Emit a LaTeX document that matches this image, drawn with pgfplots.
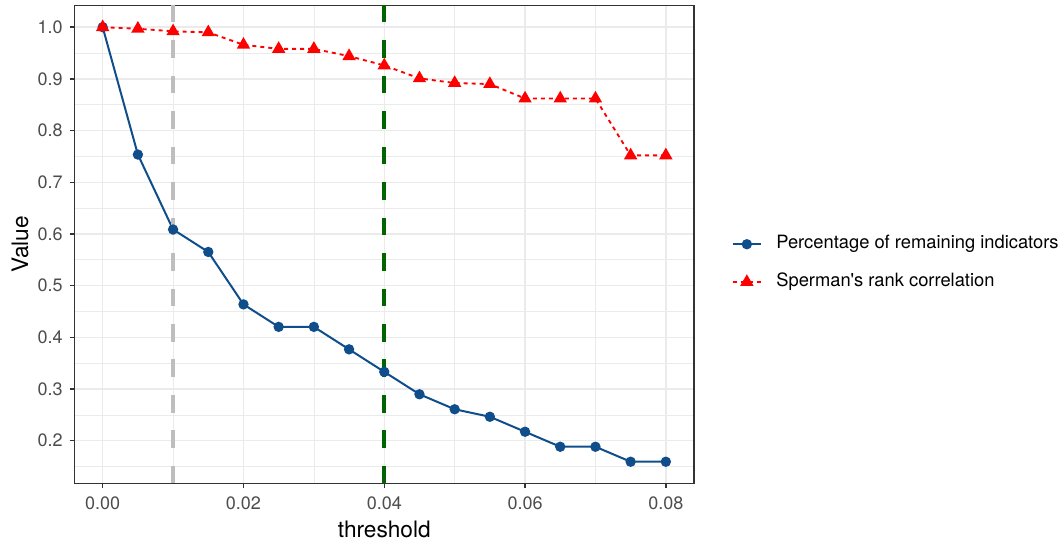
\documentclass[border=0pt]{standalone}
\usepackage{fontspec}
\setmainfont{TeX Gyre Heros}
\usepackage{pgfplots}
\pgfplotsset{compat=1.18}
\definecolor{gridc}{HTML}{EBEBEB}
\definecolor{borderc}{HTML}{333333}
\definecolor{tickc}{HTML}{4D4D4D}
\definecolor{blueline}{RGB}{16,78,139}
\definecolor{vgrey}{HTML}{BEBEBE}
\definecolor{vgreen}{HTML}{006400}
\begin{document}
\begin{tikzpicture}
\path[use as bounding box] (-55.9pt,-43.9pt) rectangle (742.1pt,362.6pt);
\begin{axis}[
  scale only axis, width=464.6pt, height=358.5pt,
  xmin=-0.004, xmax=0.084, ymin=0.11737, ymax=1.04203,
  xtick={0,0.02,0.04,0.06,0.08}, minor xtick={0.01,0.03,0.05,0.07},
  ytick={0.2,0.3,0.4,0.5,0.6,0.7,0.8,0.9,1.0},
  minor ytick={0.15,0.25,0.35,0.45,0.55,0.65,0.75,0.85,0.95},
  grid=both,
  major grid style={gridc, line width=1.1pt},
  minor grid style={gridc, line width=0.55pt},
  axis line style={borderc, line width=1.1pt},
  tick style={borderc, line width=1.1pt},
  major tick length=3.75pt, minor tick length=0pt,
  tick align=outside, xtick pos=bottom, ytick pos=left,
  scaled x ticks=false, scaled y ticks=false,
  /pgf/number format/assume math mode=true,
  tick label style={font=\fontsize{13.5}{16}\selectfont, text=tickc, inner sep=0pt},
  xticklabel style={/pgf/number format/.cd, fixed, fixed zerofill, precision=2, /tikz/.cd, yshift=-6pt},
  yticklabel style={/pgf/number format/.cd, fixed, fixed zerofill, precision=1, /tikz/.cd, xshift=-4.9pt},
  every axis x label/.style={at={(axis description cs:0.5,0)}, anchor=base, yshift=-40.9pt, font=\fontsize{17}{20}\selectfont, inner sep=0pt},
  every axis y label/.style={at={(axis description cs:-0.088,0.5)}, rotate=90, anchor=center, font=\fontsize{17}{20}\selectfont, inner sep=0pt},
  xlabel={threshold}, ylabel={Value},
  legend cell align=left,
  legend image code/.code={\draw[mark repeat=2,mark phase=2,#1] plot coordinates {(0pt,0pt)(10.6pt,0pt)(21.2pt,0pt)};},
  legend style={at={(1.0609,0.461)}, anchor=west, draw=none, fill=none, inner sep=0pt, outer sep=0pt,
    row sep=15.3pt, column sep=0pt, font=\fontsize{13.75}{16}\selectfont,
    nodes={inner ysep=0pt, inner xsep=6.25pt, text height=10pt, text depth=3pt},
    /tikz/every odd column/.append style={column sep=4.5pt}},
]
\addplot[blueline, line width=1.5pt, mark=*, mark size=3.1pt, mark options={solid}] coordinates {
(0,1)(0.005,0.7536)(0.01,0.6087)(0.015,0.5652)(0.02,0.4638)(0.025,0.4203)(0.03,0.4203)(0.035,0.3768)(0.04,0.3333)(0.045,0.2899)(0.05,0.2609)(0.055,0.2464)(0.06,0.2174)(0.065,0.1884)(0.07,0.1884)(0.075,0.1594)(0.08,0.1594)};
\addlegendentry{Percentage of remaining indicators}
\addplot[red, line width=1.4pt, dash pattern=on 3pt off 3pt, mark=triangle*, mark size=4.4pt, mark options={solid}] coordinates {
(0,1)(0.005,0.997)(0.01,0.992)(0.015,0.990)(0.02,0.966)(0.025,0.958)(0.03,0.958)(0.035,0.944)(0.04,0.926)(0.045,0.901)(0.05,0.892)(0.055,0.890)(0.06,0.862)(0.065,0.862)(0.07,0.862)(0.075,0.752)(0.08,0.752)};
\addlegendentry{Sperman\textquotesingle s rank correlation}
\addplot[vgrey, line width=3pt, dash pattern=on 13.2pt off 13.4pt, forget plot] coordinates {(0.01,0.11737)(0.01,1.04203)};
\addplot[vgreen, line width=3pt, dash pattern=on 13.2pt off 13.4pt, forget plot] coordinates {(0.04,0.11737)(0.04,1.04203)};
\end{axis}
\end{tikzpicture}
\end{document}
